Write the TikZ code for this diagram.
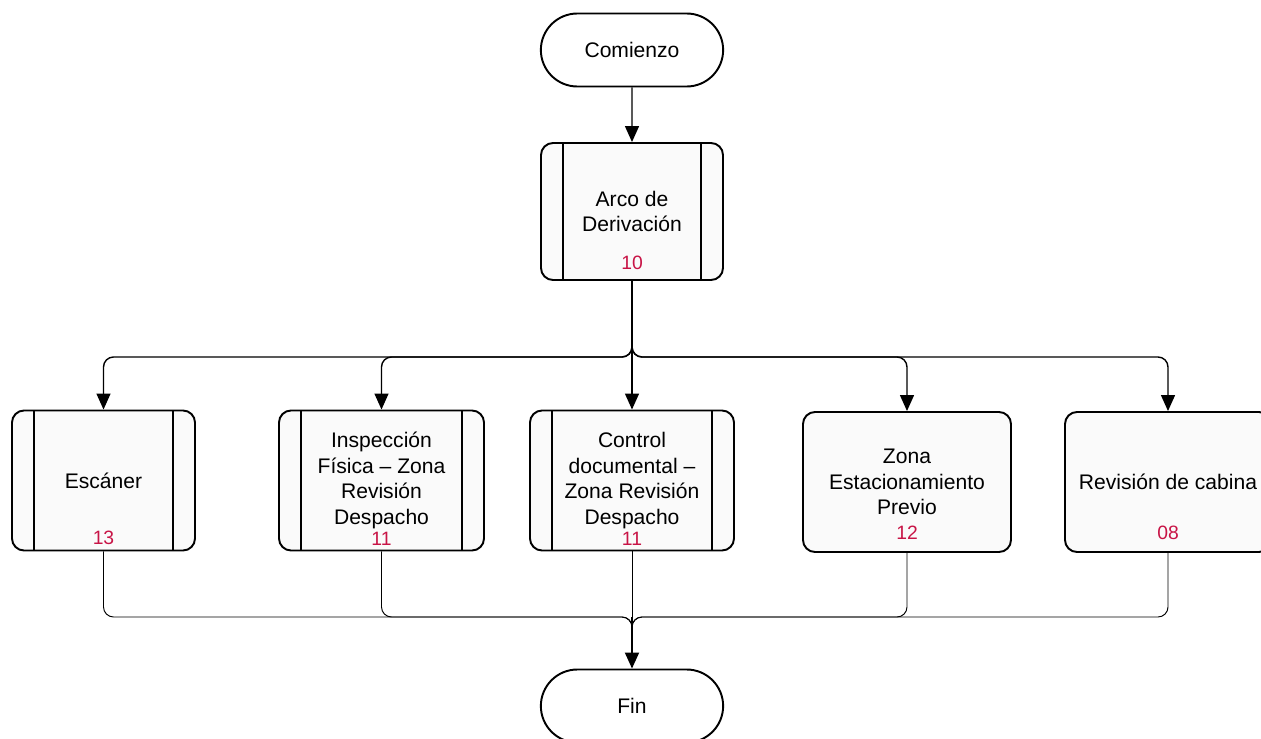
\documentclass[tikz,border=0pt]{standalone}
\usepackage{fontspec}
\setmainfont{Liberation Sans}
\usetikzlibrary{arrows.meta}
\usetikzlibrary{shapes.misc}
\definecolor{numred}{RGB}{200,20,70}

\begin{document}
\begin{tikzpicture}
        \tikzset{terminal/.style = {draw, rounded rectangle, line width=1.1pt, fill=white, minimum width=3.88cm, minimum height=1.46cm, font=\fontsize{12}{14.5}\selectfont}}
        \tikzset{box/.style = {draw, rectangle, rounded corners=0.24cm, line width=1.1pt, fill=black!2, minimum height=2.8cm, align=center, font=\fontsize{12}{14.5}\selectfont}}
        \tikzset{process/.style = {box, path picture={
            \draw[line width=1.1pt] ([xshift=0.44cm]path picture bounding box.north west) -- ([xshift=0.44cm]path picture bounding box.south west);
            \draw[line width=1.1pt] ([xshift=-0.44cm]path picture bounding box.north east) -- ([xshift=-0.44cm]path picture bounding box.south east);}}}
        \tikzset{num/.style = {text=numred, font=\fontsize{11}{13}\selectfont}}
        \tikzset{edge/.style = {->, > = {Triangle[length=0.32cm, width=0.28cm]}, line width=0.8pt, rounded corners=0.2cm}}
        \tikzset{link/.style = {-, line width=0.55pt, rounded corners=0.2cm}}

        \useasboundingbox (0,0) rectangle (25.22,-14.78);
        \clip (0,0) rectangle (25.22,-14.78);

        \node[terminal] (start) at (12.64,-1.0) {Comienzo};
        \node[process, minimum width=3.64cm, minimum height=2.74cm] (arco) at (12.64,-4.23) {Arco de\\Derivación};
        \node[num] (arco-n) at ([yshift=0.36cm]arco.south) {10};

        \node[process, minimum width=3.66cm] (scan) at (2.07,-9.61) {Escáner};
        \node[process, minimum width=4.1cm] (insp) at (7.63,-9.61) {Inspección\\Física -- Zona\\Revisión\\Despacho};
        \node[process, minimum width=4.08cm] (ctrl) at (12.64,-9.61) {Control\\documental --\\Zona Revisión\\Despacho};
        \node[box, minimum width=4.16cm] (zona) at (18.14,-9.64) {Zona\\Estacionamiento\\Previo};
        \node[box, minimum width=4.12cm] (cab) at (23.36,-9.64) {Revisión de cabina};

        \node[num] (scan-n) at ([yshift=0.28cm]scan.south) {13};
        \node[num] (insp-n) at ([yshift=0.26cm]insp.south) {11};
        \node[num] (ctrl-n) at ([yshift=0.26cm]ctrl.south) {11};
        \node[num] (zona-n) at ([yshift=0.4cm]zona.south) {12};
        \node[num] (cab-n) at ([yshift=0.4cm]cab.south) {08};

        \node[terminal] (fin) at (12.64,-14.12) {Fin};

        \coordinate (top-bus) at (12.64,-7.14);
        \coordinate (bot-bus) at (12.64,-12.34);
        \coordinate (bot-drop) at (12.64,-12.8);

        \draw[edge] (start) to (arco);

        \draw[line width=1.2pt] (arco.south) -- ([yshift=0.2cm]top-bus);
        \draw[edge] (arco.south) -- (top-bus) -| (scan.north);
        \draw[edge] (arco.south) -- (top-bus) -| (insp.north);
        \draw[edge] (arco.south) -- (ctrl.north);
        \draw[edge] (arco.south) -- (top-bus) -| (zona.north);
        \draw[edge] (arco.south) -- (top-bus) -| (cab.north);

        \draw[link] (scan.south) |- (bot-bus) -- (bot-drop);
        \draw[link] (insp.south) |- (bot-bus) -- (bot-drop);
        \draw[link] (ctrl.south) -- (bot-bus);
        \draw[link] (zona.south) |- (bot-bus) -- (bot-drop);
        \draw[link] (cab.south) |- (bot-bus) -- (bot-drop);
        \draw[edge, line width=1.1pt] (bot-bus) -- (fin.north);
\end{tikzpicture}
\end{document}
